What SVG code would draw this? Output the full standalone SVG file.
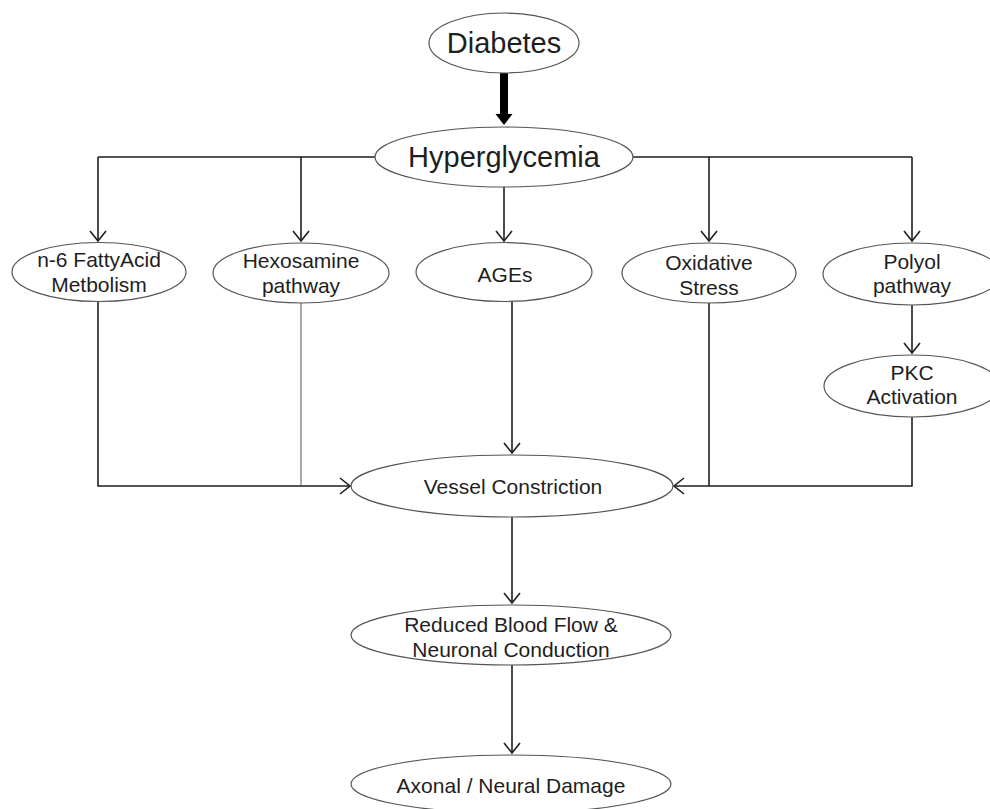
<svg xmlns="http://www.w3.org/2000/svg" width="990" height="809" viewBox="0 0 990 809">
  <style>
    .node ellipse { fill: #ffffff; stroke: #555555; stroke-width: 1.2; }
    .node text { font-family: "Liberation Sans", Arial, sans-serif; font-size: 21px; fill: #1e1e1e; text-anchor: middle; }
    .node text.big { font-size: 29px; }
    .conn { fill: none; stroke: #1e1e1e; stroke-width: 1.6; }
    .thin { fill: none; stroke: #555555; stroke-width: 1; }
  </style>
  <defs>
    <marker id="arr" markerUnits="userSpaceOnUse" viewBox="-11 -9 13 18" markerWidth="13" markerHeight="18" refX="0" refY="0" orient="auto">
      <path d="M-10,-8 L0,0 L-10,8" fill="none" stroke="#1e1e1e" stroke-width="1.6"/>
    </marker>
  </defs>
  <rect width="990" height="809" fill="#ffffff"/>

  <g id="connectors">
    <polygon points="500,73 508,73 508,114 512.5,114 504,125 495.5,114 500,114" fill="#000000"/>
    <line class="conn" x1="98" y1="157" x2="375" y2="157"/>
    <line class="conn" x1="633" y1="157" x2="912" y2="157"/>
    <line class="conn" x1="98" y1="157" x2="98" y2="241" marker-end="url(#arr)"/>
    <line class="conn" x1="301" y1="157" x2="301" y2="241" marker-end="url(#arr)"/>
    <line class="conn" x1="504" y1="187" x2="504" y2="241" marker-end="url(#arr)"/>
    <line class="conn" x1="709" y1="157" x2="709" y2="241" marker-end="url(#arr)"/>
    <line class="conn" x1="912" y1="157" x2="912" y2="241" marker-end="url(#arr)"/>
    <line class="conn" x1="912" y1="305" x2="912" y2="353" marker-end="url(#arr)"/>
    <line class="conn" x1="512" y1="302" x2="512" y2="453" marker-end="url(#arr)"/>
    <polyline class="conn" points="98,302 98,486 350,486" marker-end="url(#arr)"/>
    <line class="thin" x1="301" y1="303" x2="301" y2="486"/>
    <line class="conn" x1="709" y1="303" x2="709" y2="486"/>
    <polyline class="conn" points="912,417 912,486 674,486" marker-end="url(#arr)"/>
    <line class="conn" x1="512" y1="517" x2="512" y2="603" marker-end="url(#arr)"/>
    <line class="conn" x1="512" y1="665" x2="512" y2="753" marker-end="url(#arr)"/>
  </g>

  <g id="diabetes" class="node">
    <ellipse cx="504" cy="43" rx="75" ry="30"/>
    <text class="big" x="504" y="53">Diabetes</text>
  </g>
  <g id="hyperglycemia" class="node">
    <ellipse cx="504" cy="157" rx="129" ry="30"/>
    <text class="big" x="504" y="167">Hyperglycemia</text>
  </g>
  <g id="n6" class="node">
    <ellipse cx="99" cy="272" rx="87" ry="29.5"/>
    <text x="99" y="267">n-6 FattyAcid</text>
    <text x="99" y="292">Metbolism</text>
  </g>
  <g id="hexosamine" class="node">
    <ellipse cx="301" cy="273" rx="88" ry="30"/>
    <text x="301" y="268">Hexosamine</text>
    <text x="301" y="293">pathway</text>
  </g>
  <g id="ages" class="node">
    <ellipse cx="504" cy="272" rx="88" ry="29.5"/>
    <text x="505" y="282">AGEs</text>
  </g>
  <g id="oxidative" class="node">
    <ellipse cx="709" cy="273" rx="87" ry="30"/>
    <text x="709" y="270">Oxidative</text>
    <text x="709" y="295">Stress</text>
  </g>
  <g id="polyol" class="node">
    <ellipse cx="912" cy="274" rx="89" ry="31"/>
    <text x="912" y="269">Polyol</text>
    <text x="912" y="293">pathway</text>
  </g>
  <g id="pkc" class="node">
    <ellipse cx="912" cy="386" rx="88" ry="31"/>
    <text x="912" y="380">PKC</text>
    <text x="912" y="404">Activation</text>
  </g>
  <g id="vessel" class="node">
    <ellipse cx="512" cy="486" rx="161" ry="31"/>
    <text x="513" y="494">Vessel Constriction</text>
  </g>
  <g id="reduced" class="node">
    <ellipse cx="511" cy="635" rx="160" ry="30"/>
    <text x="511" y="632">Reduced Blood Flow &amp;</text>
    <text x="511" y="657">Neuronal Conduction</text>
  </g>
  <g id="axonal" class="node">
    <ellipse cx="511" cy="784" rx="160" ry="29"/>
    <text x="511" y="793">Axonal / Neural Damage</text>
  </g>
</svg>
